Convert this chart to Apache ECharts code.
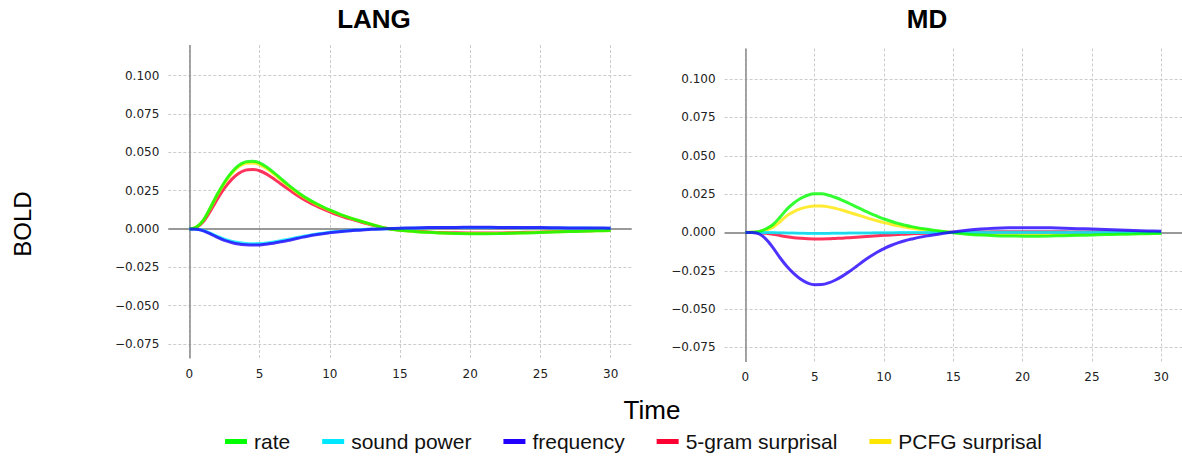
<!DOCTYPE html>
<html>
<head>
<meta charset="utf-8">
<script src="https://cdn.jsdelivr.net/npm/echarts@6/dist/echarts.min.js"></script>
<style>
html,body{margin:0;padding:0;background:#fff;}
#chart{width:1182px;height:457px;}
</style>
</head>
<body>
<div id="chart"></div>
<script>
// ---- data ----
const panelTitles = ['LANG', 'MD'];
const seriesNames = ['rate', 'sound power', 'frequency', '5-gram surprisal', 'PCFG surprisal'];
const seriesColors = ['#00ff00', '#00e8ff', '#2200ff', '#ff0033', '#ffe600'];
const times = [0,0.5,1,1.5,2,2.5,3,3.5,4,4.5,5,5.5,6,6.5,7,7.5,8,8.5,9,9.5,10,10.5,11,11.5,12,
               13,14,15,16,17,18,19,20,21,22,23,24,25,26,27,28,29,30];
const xTicks = [0, 5, 10, 15, 20, 25, 30];
const yTicks = [-0.075, -0.05, -0.025, 0, 0.025, 0.05, 0.075, 0.1];

// LANG panel
const langRate = [0, 0.0012, 0.0058, 0.0140, 0.0228, 0.0305, 0.0368, 0.0414, 0.0438, 0.0442, 0.0431, 0.0404, 0.0369, 0.0330, 0.0291, 0.0255, 0.0222, 0.0193, 0.0168, 0.0145, 0.0124, 0.0105, 0.0087, 0.0071, 0.0057,
  0.0030, 0.0005, -0.0008, -0.0016, -0.0022, -0.0027, -0.0030, -0.0031, -0.0031, -0.0030, -0.0028, -0.0026, -0.0023, -0.0020, -0.0017, -0.0015, -0.0012, -0.0010];
const langSound = [0, -0.0002, -0.0010, -0.0028, -0.0049, -0.0067, -0.0080, -0.0089, -0.0094, -0.0096, -0.0095, -0.0091, -0.0085, -0.0077, -0.0068, -0.0059, -0.0050, -0.0042, -0.0034, -0.0028, -0.0022, -0.0017, -0.0013, -0.0009, -0.0006,
  -0.0001, 0.0002, 0.0004, 0.0006, 0.0008, 0.0009, 0.0009, 0.0010, 0.0010, 0.0009, 0.0009, 0.0008, 0.0008, 0.0007, 0.0007, 0.0006, 0.0005, 0.0005];
const langFreq = [0, -0.0002, -0.0012, -0.0032, -0.0055, -0.0074, -0.0088, -0.0098, -0.0103, -0.0105, -0.0104, -0.0099, -0.0093, -0.0084, -0.0075, -0.0065, -0.0055, -0.0046, -0.0038, -0.0031, -0.0025, -0.0020, -0.0015, -0.0011, -0.0008,
  -0.0002, 0.0002, 0.0005, 0.0007, 0.0009, 0.0010, 0.0010, 0.0011, 0.0011, 0.0010, 0.0010, 0.0009, 0.0009, 0.0008, 0.0007, 0.0007, 0.0006, 0.0005];
const lang5gram = [0, 0.0009, 0.0048, 0.0118, 0.0196, 0.0266, 0.0322, 0.0362, 0.0384, 0.0388, 0.0380, 0.0358, 0.0328, 0.0295, 0.0262, 0.0230, 0.0201, 0.0175, 0.0152, 0.0131, 0.0112, 0.0094, 0.0078, 0.0064, 0.0051,
  0.0026, 0.0004, -0.0007, -0.0014, -0.0019, -0.0023, -0.0025, -0.0026, -0.0026, -0.0026, -0.0024, -0.0022, -0.0020, -0.0017, -0.0015, -0.0012, -0.0010, -0.0009];
const langPcfg = [0, 0.0012, 0.0057, 0.0137, 0.0223, 0.0299, 0.0360, 0.0405, 0.0428, 0.0431, 0.0420, 0.0394, 0.0360, 0.0322, 0.0284, 0.0249, 0.0217, 0.0189, 0.0164, 0.0142, 0.0121, 0.0103, 0.0085, 0.0070, 0.0056,
  0.0029, 0.0005, -0.0008, -0.0016, -0.0021, -0.0026, -0.0029, -0.0030, -0.0030, -0.0029, -0.0027, -0.0025, -0.0022, -0.0019, -0.0016, -0.0014, -0.0012, -0.0010];

// MD panel
const mdRate = [0, 0.0001, 0.0007, 0.0024, 0.0052, 0.0100, 0.0152, 0.0192, 0.0223, 0.0243, 0.0252, 0.0252, 0.0243, 0.0228, 0.0210, 0.0189, 0.0167, 0.0146, 0.0125, 0.0106, 0.0088, 0.0073, 0.0059, 0.0048, 0.0038,
  0.0022, 0.0010, -0.0002, -0.0011, -0.0017, -0.0021, -0.0023, -0.0024, -0.0024, -0.0023, -0.0021, -0.0019, -0.0017, -0.0014, -0.0012, -0.0010, -0.0008, -0.0006];
const mdSound = [0, 0, 0, -0.0001, -0.0001, -0.0002, -0.0003, -0.0004, -0.0005, -0.0006, -0.0006, -0.0006, -0.0006, -0.0005, -0.0005, -0.0004, -0.0004, -0.0003, -0.0003, -0.0002, -0.0002, -0.0002, -0.0001, -0.0001, -0.0001,
  0, 0, 0, 0.0001, 0.0001, 0.0001, 0.0001, 0.0001, 0.0001, 0.0001, 0.0001, 0.0001, 0.0001, 0.0001, 0.0001, 0, 0, 0];
const mdFreq = [0, -0.0001, -0.0010, -0.0045, -0.0100, -0.0165, -0.0222, -0.0268, -0.0305, -0.0330, -0.0341, -0.0340, -0.0329, -0.0310, -0.0285, -0.0255, -0.0222, -0.0188, -0.0157, -0.0129, -0.0105, -0.0085, -0.0068, -0.0054, -0.0043,
  -0.0024, -0.0010, 0.0003, 0.0014, 0.0022, 0.0027, 0.0030, 0.0031, 0.0031, 0.0030, 0.0028, 0.0025, 0.0022, 0.0019, 0.0016, 0.0013, 0.0010, 0.0008];
const md5gram = [0, 0, -0.0002, -0.0006, -0.0012, -0.0020, -0.0028, -0.0034, -0.0038, -0.0041, -0.0042, -0.0042, -0.0041, -0.0039, -0.0037, -0.0034, -0.0031, -0.0028, -0.0025, -0.0022, -0.0019, -0.0016, -0.0014, -0.0011, -0.0009,
  -0.0005, -0.0002, 0.0001, 0.0002, 0.0003, 0.0004, 0.0004, 0.0004, 0.0004, 0.0004, 0.0004, 0.0003, 0.0003, 0.0003, 0.0003, 0.0002, 0.0002, 0.0002];
const mdPcfg = [0, 0.0001, 0.0005, 0.0016, 0.0035, 0.0070, 0.0110, 0.0136, 0.0155, 0.0167, 0.0172, 0.0172, 0.0167, 0.0157, 0.0145, 0.0131, 0.0117, 0.0103, 0.0089, 0.0076, 0.0064, 0.0053, 0.0043, 0.0035, 0.0027,
  0.0015, 0.0006, -0.0001, -0.0006, -0.0010, -0.0012, -0.0013, -0.0014, -0.0014, -0.0013, -0.0012, -0.0011, -0.0010, -0.0008, -0.0007, -0.0006, -0.0005, -0.0004];

const panels = [
  [langRate, langSound, langFreq, lang5gram, langPcfg],
  [mdRate, mdSound, mdFreq, md5gram, mdPcfg]
];

// ---- chart ----
const chart = echarts.init(document.getElementById('chart'), null, {renderer: 'svg'});
const gridDefs = [
  {left: 168.3, top: 45, width: 463.4, height: 313.5},
  {left: 724.6, top: 48.5, width: 463.4, height: 313.5}
];
const fmtY = v => {
  const s = Math.abs(v).toFixed(3);
  return v < -1e-9 ? '\u2212' + s : s;
};
const xAxes = [], yAxes = [], series = [];
const drawOrder = [3, 4, 1, 0, 2];
gridDefs.forEach((g, i) => {
  xAxes.push({
    gridIndex: i, type: 'value', min: -1.5, max: 31.5,
    axisLine: {show: false},
    axisTick: {show: false, customValues: xTicks},
    axisLabel: {customValues: xTicks, fontFamily: 'DejaVu Sans', fontSize: 12, color: '#222', margin: 9},
    splitLine: {show: true, lineStyle: {type: [3, 2], color: '#cccccc', width: 1}}
  });
  yAxes.push({
    gridIndex: i, type: 'value', min: -0.0845, max: 0.12,
    axisLine: {show: false},
    axisTick: {show: false, customValues: yTicks},
    axisLabel: {customValues: yTicks, fontFamily: 'DejaVu Sans', fontSize: 12, color: '#222', margin: 9, formatter: fmtY},
    splitLine: {show: true, lineStyle: {type: [3, 2], color: '#cccccc', width: 1}}
  });
  drawOrder.forEach((k, j) => {
    const s = {
      name: seriesNames[k], type: 'line', xAxisIndex: i, yAxisIndex: i,
      data: times.map((t, n) => [t, panels[i][k][n]]),
      showSymbol: false, symbol: 'none', smooth: 0.3,
      itemStyle: {color: seriesColors[k]},
      lineStyle: {color: seriesColors[k], width: 3, opacity: 0.8},
      z: 3 + j
    };
    if (j === 0) {
      s.markLine = {
        silent: true, symbol: 'none', label: {show: false}, animation: false,
        data: [
          {yAxis: 0, lineStyle: {color: '#999999', width: 2, type: 'solid'}},
          {xAxis: 0, lineStyle: {color: '#888888', width: 1.5, type: 'solid'}}
        ]
      };
    }
    series.push(s);
  });
});

chart.setOption({
  animation: false,
  backgroundColor: '#ffffff',
  grid: gridDefs.map(g => Object.assign({containLabel: false}, g)),
  xAxis: xAxes,
  yAxis: yAxes,
  legend: {
    data: seriesNames, left: 225, top: 431, padding: 0,
    icon: 'rect', itemWidth: 22, itemHeight: 5, itemGap: 32,
    textStyle: {fontFamily: 'Liberation Sans', fontSize: 21, color: '#111', padding: [0, 0, 0, 2]}
  },
  graphic: [
    {type: 'text', x: 374, y: 19, style: {text: panelTitles[0], font: 'bold 26px "Liberation Sans"', fill: '#000', textAlign: 'center', textVerticalAlign: 'middle'}},
    {type: 'text', x: 927, y: 19, style: {text: panelTitles[1], font: 'bold 26px "Liberation Sans"', fill: '#000', textAlign: 'center', textVerticalAlign: 'middle'}},
    {type: 'text', x: 652, y: 410, style: {text: 'Time', font: '26px "Liberation Sans"', fill: '#000', textAlign: 'center', textVerticalAlign: 'middle'}},
    {type: 'text', x: 22, y: 224, rotation: Math.PI / 2, style: {text: 'BOLD', font: '24px "Liberation Sans"', fill: '#000', textAlign: 'center', textVerticalAlign: 'middle'}}
  ],
  series: series
});
</script>
</body>
</html>
